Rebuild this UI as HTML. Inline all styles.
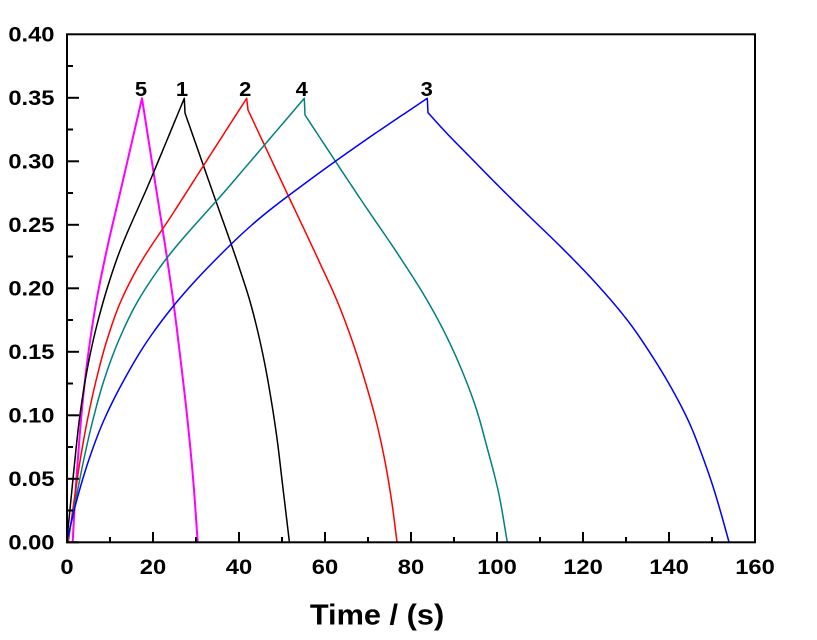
<!DOCTYPE html>
<html>
<head>
<meta charset="utf-8">
<style>
html,body{margin:0;padding:0;background:#fff;}
svg{display:block;}
text{font-family:"Liberation Sans",Arial,sans-serif;font-weight:bold;fill:#000;}
</style>
</head>
<body>
<svg id="chart" width="817" height="640" viewBox="0 0 817 640" xmlns="http://www.w3.org/2000/svg">
<rect x="0" y="0" width="817" height="640" fill="#fff"/>

<!-- curves (polyline fallback; smoothed by script) -->
<g id="curves" fill="none" stroke-linejoin="round" stroke-linecap="round">
<polyline class="fb" stroke="#FF00FF" stroke-width="2" points="72.7,542 75,500 77.8,460 81,420 85,380 90.2,340 96.6,300 104.6,260 123.3,179 142,98.3 154.6,179 167.3,260 173.1,300 180.6,360 187.5,420 193.2,480 197.7,542"/>
<polyline class="fb" stroke="#000000" stroke-width="1.5" points="66.7,542 70.9,500 74.9,460 79.3,420 85.3,380 93.3,340 103.7,300 116.5,260 150.4,180 184.3,98.3 185,113 212.5,191.5 240,270 249.6,300 257.4,330 264,360 271.2,400 277.2,440 282,480 285.7,511 289.4,542"/>
<polyline class="fb" stroke="#FF0000" stroke-width="1.5" points="68.3,542 74.2,500 80.2,460 87.4,420 96.2,380 107,340 121.4,300 136.4,270 173.2,213 209.9,155.6 246.7,98.3 248,110 284,186.7 320,263.3 336.7,300 351.9,340 364.7,380 375.9,420 384.7,460 391.5,500 397,542"/>
<polyline class="fb" stroke="#008080" stroke-width="1.5" points="67.3,542 75.7,500 83.7,460 92.9,420 104.1,380 118.9,340 138.5,300 158,270 231.2,184 304.3,98.3 305,115 362.8,202.5 400,257.3 425,296.7 445,333.3 461.7,370 475,405 487.5,449 498,490 507.3,542"/>
<polyline class="fb" stroke="#0000FF" stroke-width="1.5" points="66.7,542 76.8,500 88.8,460 104,420 124,380 148,340 178.4,300 215.2,260 257.6,220 309.6,180 365.6,140 427.3,98.3 428,112.7 447,133.5 470,157 500,187.5 530,217 560,246 596,283.3 628.5,321.7 652.5,356.7 672.5,390 689.5,423.3 702,455 712.5,485 721.5,515 729,542"/>
</g>

<!-- frame -->
<rect x="67" y="34.3" width="688" height="508" fill="none" stroke="#000" stroke-width="2"/>

<!-- y ticks -->
<g stroke="#000" stroke-width="2">
<line x1="67" y1="542.3" x2="79" y2="542.3"/>
<line x1="67" y1="478.8" x2="79" y2="478.8"/>
<line x1="67" y1="415.3" x2="79" y2="415.3"/>
<line x1="67" y1="351.8" x2="79" y2="351.8"/>
<line x1="67" y1="288.3" x2="79" y2="288.3"/>
<line x1="67" y1="224.8" x2="79" y2="224.8"/>
<line x1="67" y1="161.3" x2="79" y2="161.3"/>
<line x1="67" y1="97.8" x2="79" y2="97.8"/>
<line x1="67" y1="510.5" x2="73" y2="510.5"/>
<line x1="67" y1="447" x2="73" y2="447"/>
<line x1="67" y1="383.5" x2="73" y2="383.5"/>
<line x1="67" y1="320" x2="73" y2="320"/>
<line x1="67" y1="256.5" x2="73" y2="256.5"/>
<line x1="67" y1="193" x2="73" y2="193"/>
<line x1="67" y1="129.5" x2="73" y2="129.5"/>
<line x1="67" y1="66" x2="73" y2="66"/>
</g>

<!-- x ticks -->
<g stroke="#000" stroke-width="2">
<line x1="153" y1="542" x2="153" y2="532"/>
<line x1="239" y1="542" x2="239" y2="532"/>
<line x1="325" y1="542" x2="325" y2="532"/>
<line x1="411" y1="542" x2="411" y2="532"/>
<line x1="497" y1="542" x2="497" y2="532"/>
<line x1="583" y1="542" x2="583" y2="532"/>
<line x1="669" y1="542" x2="669" y2="532"/>
<line x1="110" y1="542" x2="110" y2="537"/>
<line x1="196" y1="542" x2="196" y2="537"/>
<line x1="282" y1="542" x2="282" y2="537"/>
<line x1="368" y1="542" x2="368" y2="537"/>
<line x1="454" y1="542" x2="454" y2="537"/>
<line x1="540" y1="542" x2="540" y2="537"/>
<line x1="626" y1="542" x2="626" y2="537"/>
<line x1="712" y1="542" x2="712" y2="537"/>
</g>

<!-- y labels -->
<g font-size="21" text-anchor="end">
<text transform="translate(54.5,549.3) scale(1.13,1)">0.00</text>
<text transform="translate(54.5,485.8) scale(1.13,1)">0.05</text>
<text transform="translate(54.5,422.3) scale(1.13,1)">0.10</text>
<text transform="translate(54.5,358.8) scale(1.13,1)">0.15</text>
<text transform="translate(54.5,295.3) scale(1.13,1)">0.20</text>
<text transform="translate(54.5,231.8) scale(1.13,1)">0.25</text>
<text transform="translate(54.5,168.3) scale(1.13,1)">0.30</text>
<text transform="translate(54.5,104.8) scale(1.13,1)">0.35</text>
<text transform="translate(54.5,41.3) scale(1.13,1)">0.40</text>
</g>

<!-- x labels -->
<g font-size="21" text-anchor="middle">
<text transform="translate(67,574) scale(1.13,1)">0</text>
<text transform="translate(153,574) scale(1.13,1)">20</text>
<text transform="translate(239,574) scale(1.13,1)">40</text>
<text transform="translate(325,574) scale(1.13,1)">60</text>
<text transform="translate(411,574) scale(1.13,1)">80</text>
<text transform="translate(497,574) scale(1.13,1)">100</text>
<text transform="translate(583,574) scale(1.13,1)">120</text>
<text transform="translate(669,574) scale(1.13,1)">140</text>
<text transform="translate(755,574) scale(1.13,1)">160</text>
</g>

<!-- axis title -->
<text font-size="29" text-anchor="middle" transform="translate(377,624.5) scale(1.06,1)">Time / (s)</text>

<!-- curve labels -->
<g font-size="20" text-anchor="middle">
<text transform="translate(141,96) scale(1.1,1)">5</text>
<text transform="translate(182,96) scale(1.1,1)">1</text>
<text transform="translate(245.3,96) scale(1.1,1)">2</text>
<text transform="translate(301.7,96) scale(1.1,1)">4</text>
<text transform="translate(426.7,96) scale(1.1,1)">3</text>
</g>
</svg>
<script>
(function(){
  var NS="http://www.w3.org/2000/svg";
  var series=[
    {c:"#FF00FF",w:2,segs:[
      [[72.7,542],[75,500],[77.8,460],[81,420],[85,380],[90.2,340],[96.6,300],[104.6,260],[123.3,179],[142,98.3]],
      [[142,98.3],[154.6,179],[167.3,260],[173.1,300],[180.6,360],[187.5,420],[193.2,480],[197.7,542]]
    ]},
    {c:"#000000",w:1.5,segs:[
      [[66.7,542],[70.9,500],[74.9,460],[79.3,420],[85.3,380],[93.3,340],[103.7,300],[116.5,260],[150.4,180],[184.3,98.3]],
      [[184.3,98.3],[185,113]],
      [[185,113],[212.5,191.5],[240,270],[249.6,300],[257.4,330],[264,360],[271.2,400],[277.2,440],[282,480],[285.7,511],[289.4,542]]
    ]},
    {c:"#FF0000",w:1.5,segs:[
      [[68.3,542],[74.2,500],[80.2,460],[87.4,420],[96.2,380],[107,340],[121.4,300],[136.4,270],[173.2,213],[209.9,155.6],[246.7,98.3]],
      [[246.7,98.3],[248,110]],
      [[248,110],[284,186.7],[320,263.3],[336.7,300],[351.9,340],[364.7,380],[375.9,420],[384.7,460],[391.5,500],[397,542]]
    ]},
    {c:"#008080",w:1.5,segs:[
      [[67.3,542],[75.7,500],[83.7,460],[92.9,420],[104.1,380],[118.9,340],[138.5,300],[158,270],[231.2,184],[304.3,98.3]],
      [[304.3,98.3],[305,115]],
      [[305,115],[362.8,202.5],[400,257.3],[425,296.7],[445,333.3],[461.7,370],[475,405],[487.5,449],[498,490],[507.3,542]]
    ]},
    {c:"#0000FF",w:1.5,segs:[
      [[66.7,542],[76.8,500],[88.8,460],[104,420],[124,380],[148,340],[178.4,300],[215.2,260],[257.6,220],[309.6,180],[365.6,140],[427.3,98.3]],
      [[427.3,98.3],[428,112.7]],
      [[428,112.7],[447,133.5],[470,157],[500,187.5],[530,217],[560,246],[596,283.3],[628.5,321.7],[652.5,356.7],[672.5,390],[689.5,423.3],[702,455],[712.5,485],[721.5,515],[729,542]]
    ]}
  ];
  function sample(p){
    var n=p.length,out=[];
    if(n<3){return [p[0],p[1]];}
    var h=[],d=[],m=[],i;
    for(i=0;i<n-1;i++){h[i]=p[i+1][1]-p[i][1];d[i]=(p[i+1][0]-p[i][0])/h[i];}
    m[0]=d[0];m[n-1]=d[n-2];
    for(i=1;i<n-1;i++){m[i]=(d[i-1]*h[i]+d[i]*h[i-1])/(h[i-1]+h[i]);}
    out.push([p[0][0],p[0][1]]);
    for(i=0;i<n-1;i++){
      var steps=Math.max(2,Math.ceil(Math.abs(h[i])));
      for(var s=1;s<=steps;s++){
        var t=s/steps,t2=t*t,t3=t2*t;
        var h00=2*t3-3*t2+1,h10=t3-2*t2+t,h01=-2*t3+3*t2,h11=t3-t2;
        var x=h00*p[i][0]+h10*h[i]*m[i]+h01*p[i+1][0]+h11*h[i]*m[i+1];
        var y=p[i][1]+t*h[i];
        out.push([x,y]);
      }
    }
    return out;
  }
  var g=document.getElementById("curves");
  var fbs=g.querySelectorAll(".fb");
  for(var k=0;k<fbs.length;k++){fbs[k].setAttribute("display","none");}
  series.forEach(function(s){
    var pts=[];
    s.segs.forEach(function(seg,idx){
      var sm=sample(seg);
      if(idx>0){sm=sm.slice(1);}
      pts=pts.concat(sm);
    });
    var str=pts.map(function(q){return q[0].toFixed(2)+","+q[1].toFixed(2);}).join(" ");
    var pl=document.createElementNS(NS,"polyline");
    pl.setAttribute("points",str);
    pl.setAttribute("stroke",s.c);
    pl.setAttribute("stroke-width",s.w);
    pl.setAttribute("fill","none");
    pl.setAttribute("stroke-linejoin","round");
    g.appendChild(pl);
  });
})();
</script>
</body>
</html>
